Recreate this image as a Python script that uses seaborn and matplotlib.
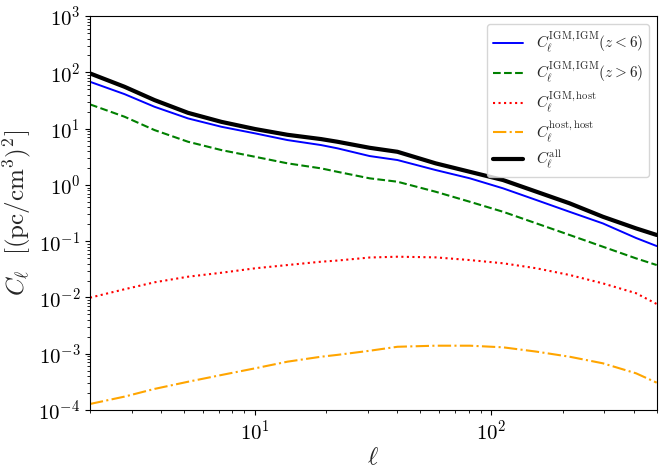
import matplotlib
matplotlib.use("Agg")
import matplotlib.pyplot as plt
import seaborn as sns

# multipoles
ell = [2, 2.8, 3.75, 5.2, 7.2, 10, 13.7, 19, 22.3, 30.5, 40, 58, 81, 112, 155, 214, 296, 409, 500]

# angular power spectra, (pc/cm^3)^2
cl_igm_low = [68.1, 41.1, 24.5, 15.2, 10.8, 8.24, 6.27, 5.11, 4.47, 3.26, 2.77, 1.84, 1.31,
              0.869, 0.538, 0.333, 0.207, 0.114, 0.082]
cl_igm_high = [27.0, 16.3, 9.44, 5.85, 4.16, 3.16, 2.42, 1.97, 1.71, 1.31, 1.14, 0.757, 0.502,
               0.333, 0.207, 0.129, 0.0798, 0.0495, 0.0377]
cl_igm_host = [0.00991, 0.0140, 0.0186, 0.0234, 0.0275, 0.0330, 0.0377, 0.0432, 0.0453, 0.0513,
               0.0530, 0.0516, 0.0462, 0.0405, 0.0330, 0.0251, 0.0178, 0.0119, 0.00766]
cl_host_host = [1.28e-4, 1.73e-4, 2.37e-4, 3.18e-4, 4.19e-4, 5.51e-4, 7.23e-4, 8.85e-4, 9.55e-4,
                1.13e-3, 1.33e-3, 1.39e-3, 1.39e-3, 1.30e-3, 1.09e-3, 8.85e-4, 6.76e-4, 4.49e-4, 3.06e-4]
cl_all = [95.9, 55.5, 32.2, 19.1, 13.2, 9.84, 7.78, 6.53, 5.85, 4.57, 3.88, 2.42, 1.71,
          1.22, 0.757, 0.471, 0.272, 0.169, 0.129]

sns.set_style("ticks")
# look of the LaTeX (Computer Modern) original
plt.rcParams['font.family'] = 'serif'
plt.rcParams['font.serif'] = ['cmr10', 'DejaVu Serif']
plt.rcParams['mathtext.fontset'] = 'cm'
plt.rcParams['axes.formatter.use_mathtext'] = True
plt.rcParams['axes.edgecolor'] = 'black'
plt.rcParams['xtick.color'] = 'black'
plt.rcParams['ytick.color'] = 'black'

fig, ax = plt.subplots(figsize=(6.65, 4.74), dpi=100)
fig.subplots_adjust(left=0.1353, right=0.9875, top=0.966, bottom=0.135)

sns.lineplot(x=ell, y=cl_igm_low, ax=ax, color='blue', lw=1.4,
             label=r'$C_\ell^{\rm IGM,IGM}(z<6)$')
sns.lineplot(x=ell, y=cl_igm_high, ax=ax, color='green', lw=1.5, linestyle='--',
             label=r'$C_\ell^{\rm IGM,IGM}(z>6)$')
sns.lineplot(x=ell, y=cl_igm_host, ax=ax, color='red', lw=1.5, linestyle=':',
             label=r'$C_\ell^{\rm IGM,host}$')
sns.lineplot(x=ell, y=cl_host_host, ax=ax, color='orange', lw=1.5, linestyle='-.',
             label=r'$C_\ell^{\rm host,host}$')
sns.lineplot(x=ell, y=cl_all, ax=ax, color='black', lw=3,
             label=r'$C_\ell^{\rm all}$')

ax.set_xscale('log')
ax.set_yscale('log')
ax.set_xlim(2, 500)
ax.set_ylim(1e-4, 1e3)
ax.tick_params(labelsize=15)
ax.set_xlabel(r'$\ell$', fontsize=18, labelpad=2)
ax.set_ylabel(r'$C_\ell\ \ [({\rm pc/cm}^3)^2]$', fontsize=18, labelpad=4)
ax.legend(loc='upper right', fontsize=11, labelspacing=0.3)

plt.savefig('out.png')
